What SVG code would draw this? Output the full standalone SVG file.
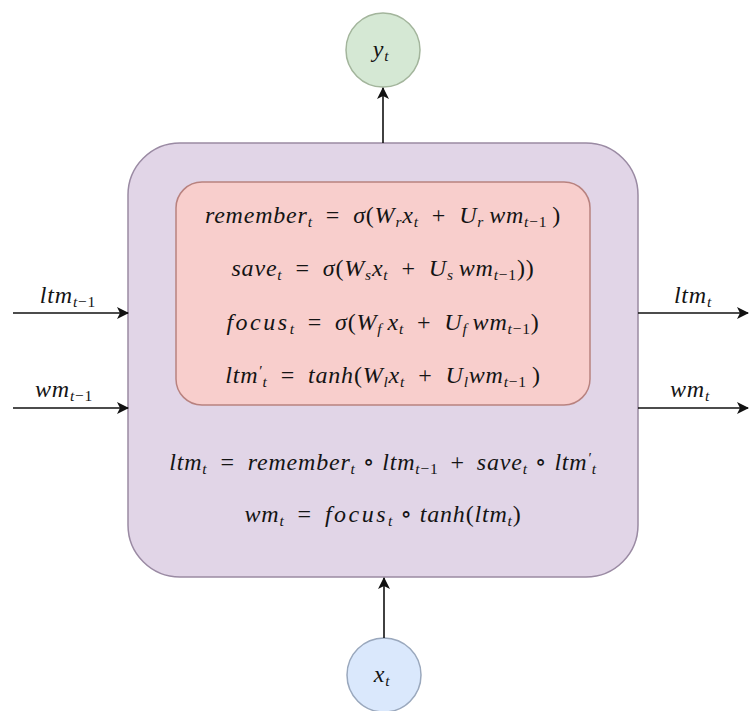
<svg xmlns="http://www.w3.org/2000/svg" width="750" height="711" viewBox="0 0 750 711">
<style>
  .m { font-family: "Liberation Serif", "Tinos", "Noto Serif", "DejaVu Serif", "Times New Roman", serif; font-style: italic; font-size: 24px; fill: #141414; letter-spacing: 0.8px; }
  .u { font-style: normal; }
  .s { font-size: 15.5px; }
  .conn { stroke: #111; stroke-width: 1.6; fill: none; marker-end: url(#arr); }
</style>
<defs>
  <marker id="arr" viewBox="0 0 12 12" refX="11" refY="6" markerWidth="12" markerHeight="12" markerUnits="userSpaceOnUse" orient="auto">
    <path d="M0,0 L12,6 L0,12 L3,6 Z" fill="#111"/>
  </marker>
</defs>
<rect width="750" height="711" fill="#ffffff"/>

<g id="cell">
  <rect x="128" y="143" width="510" height="434" rx="52" ry="52" fill="#e1d5e7" stroke="#9a8aa3" stroke-width="1.5"/>
  <text class="m" x="383" y="470" text-anchor="middle">ltm<tspan class="s" dy="4">t</tspan><tspan dy="-4" class="u" dx="13">=</tspan><tspan dx="13">remember</tspan><tspan class="s" dy="4">t</tspan><tspan dy="-4" class="u" dx="7">∘</tspan><tspan dx="7">ltm</tspan><tspan class="s" dy="4">t</tspan><tspan class="s u">−1</tspan><tspan dy="-4" class="u" dx="12">+</tspan><tspan dx="12">save</tspan><tspan class="s" dy="4">t</tspan><tspan dy="-4" class="u" dx="7">∘</tspan><tspan dx="7">ltm</tspan><tspan class="s" dy="-7">′</tspan><tspan class="s" dy="11">t</tspan></text>
  <text class="m" x="383" y="522" text-anchor="middle">wm<tspan class="s" dy="4">t</tspan><tspan dy="-4" class="u" dx="13">=</tspan><tspan letter-spacing="2.5" dx="13">focus</tspan><tspan class="s" dy="4">t</tspan><tspan dy="-4" class="u" dx="7">∘</tspan><tspan dx="7">tanh</tspan><tspan class="u">(</tspan>ltm<tspan class="s" dy="4">t</tspan><tspan dy="-4" class="u">)</tspan></text>
</g>

<g id="gates">
  <rect x="176" y="182" width="414" height="223" rx="26" ry="26" fill="#f8cecc" stroke="#b8827f" stroke-width="1.5"/>
  <text class="m" x="383" y="223" text-anchor="middle">remember<tspan class="s" dy="4">t</tspan><tspan dy="-4" class="u" dx="13">=</tspan><tspan dx="13">σ</tspan><tspan class="u">(</tspan>W<tspan class="s" dy="4">r</tspan><tspan dy="-4">x</tspan><tspan class="s" dy="4">t</tspan><tspan dy="-4" class="u" dx="13">+</tspan><tspan dx="13">U</tspan><tspan class="s" dy="4">r</tspan><tspan dy="-4" dx="5">wm</tspan><tspan class="s" dy="4">t</tspan><tspan class="s u">−1</tspan><tspan dy="-4" class="u" dx="5">)</tspan></text>
  <text class="m" x="383" y="276" text-anchor="middle">save<tspan class="s" dy="4">t</tspan><tspan dy="-4" class="u" dx="13">=</tspan><tspan dx="13">σ</tspan><tspan class="u">(</tspan>W<tspan class="s" dy="4">s</tspan><tspan dy="-4">x</tspan><tspan class="s" dy="4">t</tspan><tspan dy="-4" class="u" dx="13">+</tspan><tspan dx="13">U</tspan><tspan class="s" dy="4">s</tspan><tspan dy="-4" dx="5">wm</tspan><tspan class="s" dy="4">t</tspan><tspan class="s u">−1</tspan><tspan dy="-4" class="u">))</tspan></text>
  <text class="m" x="383" y="330" text-anchor="middle"><tspan letter-spacing="2.5">focus</tspan><tspan class="s" dy="4">t</tspan><tspan dy="-4" class="u" dx="13">=</tspan><tspan dx="13">σ</tspan><tspan class="u">(</tspan>W<tspan class="s" dy="4">f</tspan><tspan dy="-4" dx="5">x</tspan><tspan class="s" dy="4">t</tspan><tspan dy="-4" class="u" dx="13">+</tspan><tspan dx="13">U</tspan><tspan class="s" dy="4">f</tspan><tspan dy="-4" dx="5">wm</tspan><tspan class="s" dy="4">t</tspan><tspan class="s u">−1</tspan><tspan dy="-4" class="u">)</tspan></text>
  <text class="m" x="383" y="383" text-anchor="middle">ltm<tspan class="s" dy="-7">′</tspan><tspan class="s" dy="11">t</tspan><tspan dy="-4" class="u" dx="13">=</tspan><tspan dx="13">tanh</tspan><tspan class="u">(</tspan>W<tspan class="s" dy="4">l</tspan><tspan dy="-4">x</tspan><tspan class="s" dy="4">t</tspan><tspan dy="-4" class="u" dx="13">+</tspan><tspan dx="13">U</tspan><tspan class="s" dy="4">l</tspan><tspan dy="-4">wm</tspan><tspan class="s" dy="4">t</tspan><tspan class="s u">−1</tspan><tspan dy="-4" class="u" dx="5">)</tspan></text>
</g>

<g id="yt">
  <circle cx="383" cy="50" r="37" fill="#d5e8d4" stroke="#a3b59c" stroke-width="1.5"/>
  <text class="m" x="381" y="57" text-anchor="middle">y<tspan class="s" dy="4">t</tspan></text>
</g>

<g id="xt">
  <circle cx="384" cy="675" r="37" fill="#dae8fc" stroke="#9aa8bd" stroke-width="1.5"/>
  <text class="m" x="382" y="682" text-anchor="middle">x<tspan class="s" dy="4">t</tspan></text>
</g>

<g id="labels">
  <text class="m" x="68" y="303" text-anchor="middle">ltm<tspan class="s" dy="4">t</tspan><tspan class="s u">−1</tspan></text>
  <text class="m" x="64" y="397" text-anchor="middle">wm<tspan class="s" dy="4">t</tspan><tspan class="s u">−1</tspan></text>
  <text class="m" x="693" y="303" text-anchor="middle">ltm<tspan class="s" dy="4">t</tspan></text>
  <text class="m" x="690" y="397" text-anchor="middle">wm<tspan class="s" dy="4">t</tspan></text>
</g>

<g id="connectors">
  <line class="conn" x1="383" y1="143" x2="383" y2="88"/>
  <line class="conn" x1="384" y1="638" x2="384" y2="578"/>
  <line class="conn" x1="13" y1="313" x2="128" y2="313"/>
  <line class="conn" x1="13" y1="408" x2="128" y2="408"/>
  <line class="conn" x1="638" y1="313" x2="748" y2="313"/>
  <line class="conn" x1="638" y1="408" x2="748" y2="408"/>
</g>
</svg>
